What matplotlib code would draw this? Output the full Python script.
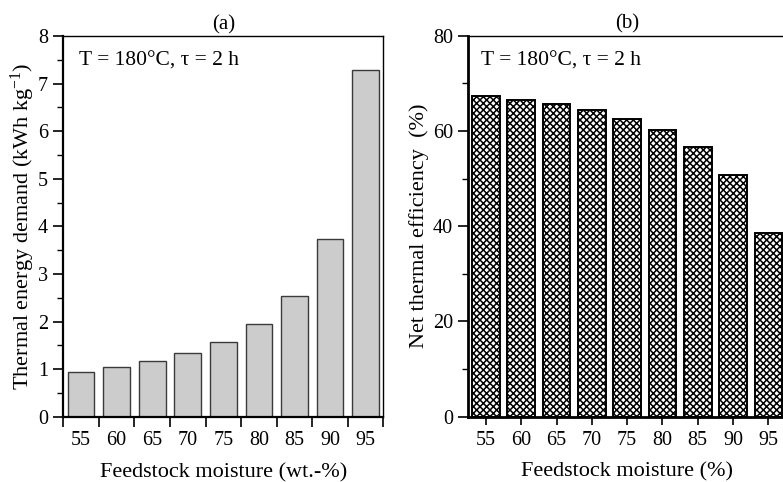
import matplotlib
matplotlib.use("Agg")
import matplotlib.pyplot as plt
import numpy as np
from matplotlib.ticker import MultipleLocator, FixedLocator, NullFormatter

plt.rcParams['font.family'] = ['Liberation Serif', 'DejaVu Serif']
plt.rcParams['mathtext.fontset'] = 'custom'
plt.rcParams['mathtext.rm'] = 'Liberation Serif'
plt.rcParams['mathtext.it'] = 'Liberation Serif:italic'
plt.rcParams['hatch.linewidth'] = 1.1
plt.rcParams['hatch.color'] = 'black'

moisture = ['55', '60', '65', '70', '75', '80', '85', '90', '95']
energy_demand = [0.94, 1.04, 1.17, 1.34, 1.58, 1.94, 2.53, 3.73, 7.29]
efficiency = [67.3, 66.6, 65.6, 64.3, 62.6, 60.3, 56.7, 50.7, 38.5]
condition_text = 'T = 180°C, τ = 2 h'

W, H = 783, 482
fig = plt.figure(figsize=(W / 100, H / 100), dpi=100)

ax1 = fig.add_axes([63.3 / W, (H - 416.7) / H, (383.5 - 63.3) / W, (416.7 - 36) / H])
ax2 = fig.add_axes([468.3 / W, (H - 416.7) / H, (786 - 468.3) / W, (416.7 - 35.7) / H])

x = np.arange(len(moisture))
tick_fs = 14.5
label_fs = 16

# (a) thermal energy demand
ax1.bar(x, energy_demand, width=0.75, color='#cccccc', edgecolor='#3a3a3a', linewidth=1.0)
ax1.set_xlim(-0.5, len(moisture) - 0.5)
ax1.set_ylim(0, 8)
ax1.yaxis.set_major_locator(MultipleLocator(1))
ax1.yaxis.set_minor_locator(MultipleLocator(0.5))
ax1.xaxis.set_major_locator(FixedLocator(np.arange(-0.5, len(moisture), 1.0)))
ax1.xaxis.set_major_formatter(NullFormatter())
ax1.xaxis.set_minor_locator(FixedLocator(x))
ax1.set_xticklabels(moisture, minor=True)
ax1.tick_params(axis='x', which='major', direction='out', length=7, width=1.2)
ax1.tick_params(axis='x', which='minor', length=0, labelsize=tick_fs, pad=10)
ax1.tick_params(axis='y', which='major', direction='out', length=7, width=1.2,
                labelsize=tick_fs, pad=4)
ax1.tick_params(axis='y', which='minor', direction='out', length=4, width=1.0)
ax1.set_ylabel('Thermal energy demand (kWh kg$\\mathregular{^{-1}}$)', fontsize=label_fs,
               labelpad=1)
ax1.set_xlabel('Feedstock moisture (wt.-%)', fontsize=label_fs, labelpad=10)
ax1.set_title('(a)', fontsize=15, pad=5)
ax1.text(0.05, 0.958, condition_text, transform=ax1.transAxes, fontsize=15.5,
         ha='left', va='top')
for side in ['left', 'bottom']:
    ax1.spines[side].set_linewidth(1.6)
for side in ['top', 'right']:
    ax1.spines[side].set_linewidth(1.0)

# (b) net thermal efficiency
ax2.bar(x, efficiency, width=0.78, color='white', edgecolor='black', linewidth=1.4,
        hatch='xxxxx')
ax2.set_xlim(-0.5, len(moisture) - 0.5)
ax2.set_ylim(0, 80)
ax2.set_xticks(x)
ax2.set_xticklabels(moisture)
ax2.yaxis.set_major_locator(MultipleLocator(20))
ax2.yaxis.set_minor_locator(MultipleLocator(10))
ax2.tick_params(axis='x', which='major', direction='out', length=6, width=1.2,
                labelsize=tick_fs, pad=4)
ax2.tick_params(axis='y', which='major', direction='out', length=7, width=1.2,
                labelsize=tick_fs, pad=4)
ax2.tick_params(axis='y', which='minor', direction='out', length=4, width=1.0)
ax2.set_ylabel('Net thermal efficiency  (%)', fontsize=label_fs, labelpad=3)
ax2.set_xlabel('Feedstock moisture (%)', fontsize=label_fs, labelpad=9)
ax2.set_title('(b)', fontsize=15, pad=5)
ax2.text(0.04, 0.958, condition_text, transform=ax2.transAxes, fontsize=15.5,
         ha='left', va='top')
for side in ['left', 'bottom']:
    ax2.spines[side].set_linewidth(2.0)
for side in ['top', 'right']:
    ax2.spines[side].set_linewidth(1.0)

fig.savefig('out.png', dpi=100)
